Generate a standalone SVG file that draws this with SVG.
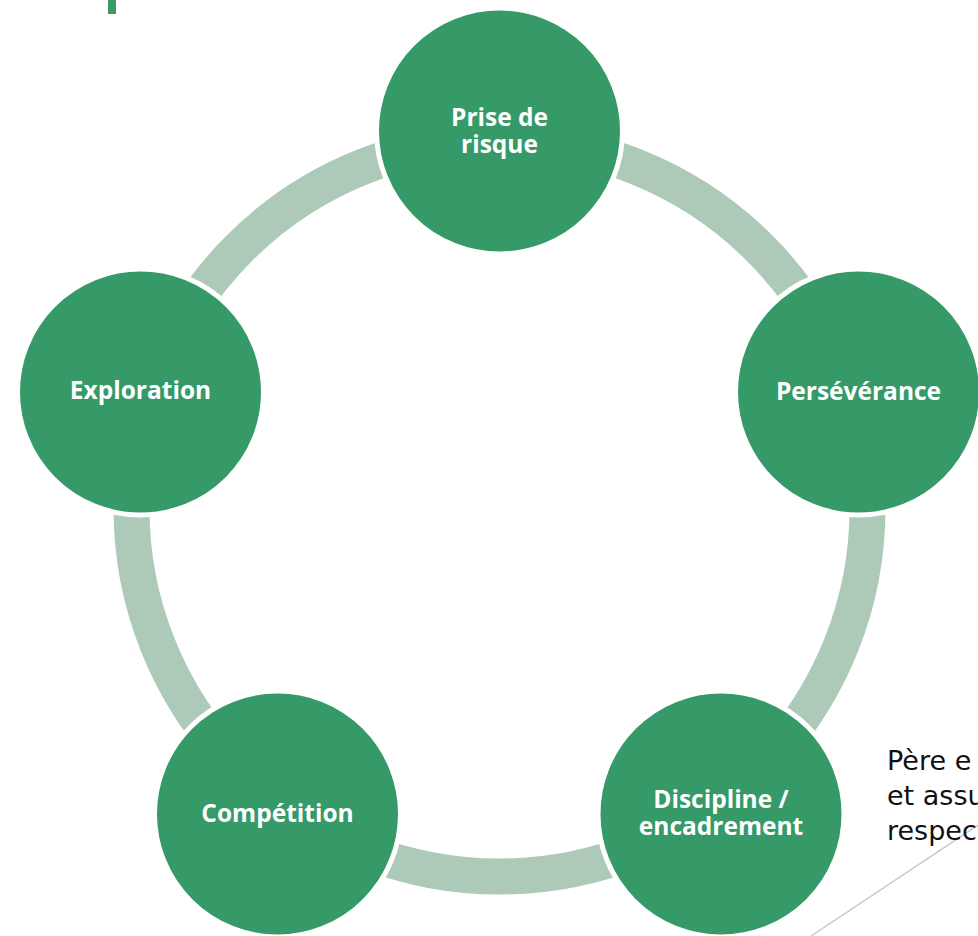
<svg xmlns="http://www.w3.org/2000/svg" width="978" height="936" viewBox="0 0 978 936">
<style>
.node{fill:#359A68;stroke:#FFFFFF;stroke-width:5}
.lbl{fill:#FFFFFF;font-family:"Open Sans","DejaVu Sans",sans-serif;font-weight:700;font-size:24.5px;text-anchor:middle}
.note{fill:#111111;font-family:"DejaVu Sans","Open Sans",sans-serif;font-size:27px}
</style>
<rect width="978" height="936" fill="#FFFFFF"/>
<rect x="108" y="0" width="8" height="14" fill="#3A9A6A"/>
<g id="connectors">
<circle cx="499.5" cy="508.5" r="368" fill="none" stroke="#ADCAB8" stroke-width="36"/>
<line x1="811" y1="936" x2="978" y2="825" stroke="#C8C8C8" stroke-width="1.5"/>
</g>
<g id="node-prise">
<circle class="node" cx="499.5" cy="131" r="123"/>
<text class="lbl" x="499.5" y="126">Prise de</text>
<text class="lbl" x="499.5" y="153">risque</text>
</g>
<g id="node-perseverance">
<circle class="node" cx="858.5" cy="392" r="123"/>
<text class="lbl" x="858.5" y="400">Persévérance</text>
</g>
<g id="node-discipline">
<circle class="node" cx="721" cy="814" r="123"/>
<text class="lbl" x="721" y="808">Discipline /</text>
<text class="lbl" x="721" y="835">encadrement</text>
</g>
<g id="node-competition">
<circle class="node" cx="277.5" cy="814" r="123"/>
<text class="lbl" x="277.5" y="822">Compétition</text>
</g>
<g id="node-exploration">
<circle class="node" cx="140.5" cy="392" r="123"/>
<text class="lbl" x="140.5" y="399">Exploration</text>
</g>
<g id="note">
<text class="note" x="887" y="770">Père e</text>
<text class="note" x="887" y="805">et assu</text>
<text class="note" x="887" y="840">respec</text>
</g>
</svg>
